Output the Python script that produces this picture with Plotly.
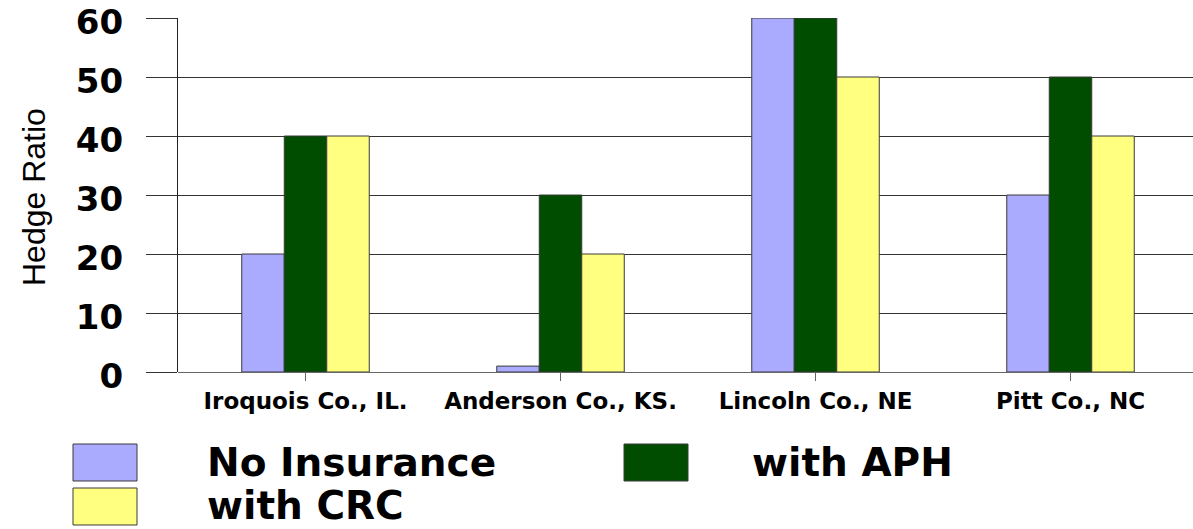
import plotly.graph_objects as go

categories = ["Iroquois Co., IL.", "Anderson Co., KS.", "Lincoln Co., NE", "Pitt Co., NC"]
no_insurance = [20, 1, 60, 30]
with_aph = [40, 30, 60, 50]
with_crc = [40, 20, 50, 40]
series_names = ["No Insurance", "with APH", "with CRC"]
series_colors = ["#AAAAFF", "#004D00", "#FFFF80"]
y_ticks = [0, 10, 20, 30, 40, 50, 60]
y_title = "Hedge Ratio"

W, H = 1193, 529
L, R, T, B = 178, 0, 18, 157
PW, PH = W - L - R, H - T - B


def px2x(px):
    return (px - L) / PW


def py2y(py):
    return (H - B - py) / PH


fig = go.Figure()
for name, vals, col in zip(series_names, [no_insurance, with_aph, with_crc], series_colors):
    fig.add_trace(go.Bar(
        x=categories, y=vals, name=name,
        marker=dict(color=col, line=dict(color="#3a3a3a", width=1)),
        showlegend=False,
    ))

bold = dict(family="DejaVu Sans", color="black", weight="bold")

fig.update_layout(
    width=W, height=H,
    margin=dict(l=L, r=R, t=T, b=B, autoexpand=False),
    paper_bgcolor="white", plot_bgcolor="white",
    barmode="group", bargap=0.5, bargroupgap=0,
    xaxis=dict(
        type="category", range=[-0.5, 3.5 - 5 / 255], automargin=False,
        showgrid=False, showline=False, zeroline=False,
        ticks="outside", ticklen=8, tickcolor="#666666", tickwidth=1,
        tickfont=dict(size=23, **bold),
    ),
    yaxis=dict(
        range=[0, 60], tickvals=y_ticks, automargin=False,
        showgrid=True, gridcolor="#333333", gridwidth=1,
        zeroline=True, zerolinecolor="#666666", zerolinewidth=1,
        showline=True, linecolor="#222222", linewidth=1,
        ticks="outside", ticklen=31, tickcolor="#333333", tickwidth=1,
        ticklabelstandoff=16, ticklabeloverflow="allow", ticklabelshift=4,
        tickfont=dict(size=34, **bold),
    ),
)

fig.add_annotation(
    text=y_title, textangle=-90, showarrow=False,
    xref="paper", yref="paper", x=px2x(34), y=py2y(197),
    xanchor="center", yanchor="middle",
    font=dict(family="Liberation Sans", size=32, color="black"),
)

# custom legend
legend_items = [
    (series_names[0], series_colors[0], 73, 444, 205, 463),
    (series_names[1], series_colors[1], 624, 444, 750, 463),
    (series_names[2], series_colors[2], 73, 488, 205, 505),
]
for name, col, bx, by, tx, ty in legend_items:
    fig.add_shape(
        type="rect", xref="paper", yref="paper",
        x0=px2x(bx), x1=px2x(bx + 64), y0=py2y(by), y1=py2y(by + 37),
        fillcolor=col, line=dict(color="#3a3a3a", width=1),
    )
    fig.add_annotation(
        text=name, showarrow=False, xref="paper", yref="paper",
        x=px2x(tx), y=py2y(ty), xanchor="left", yanchor="middle",
        font=dict(size=39, **bold),
    )

fig.write_html("out.html")
